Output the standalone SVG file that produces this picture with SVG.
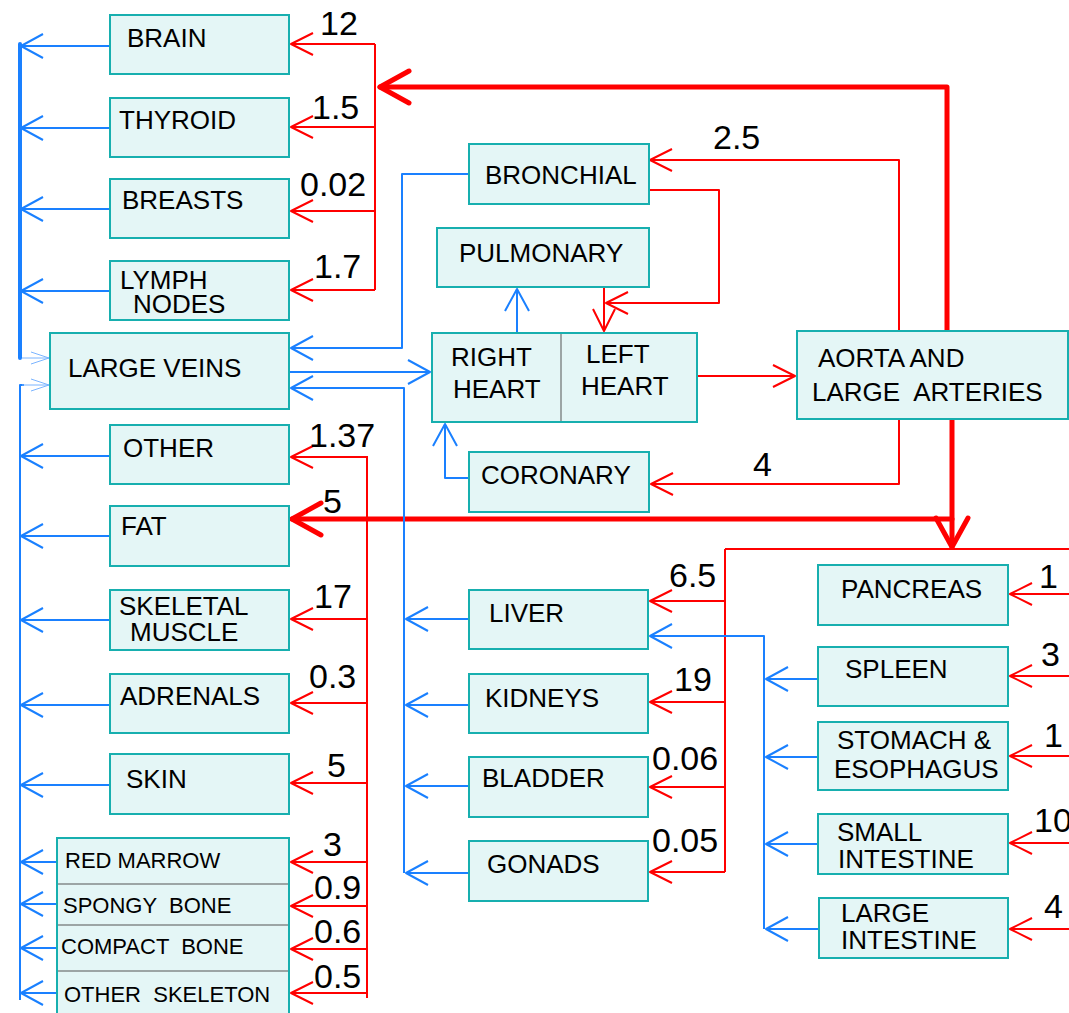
<svg xmlns="http://www.w3.org/2000/svg" width="1069" height="1013" viewBox="0 0 1069 1013">
<style>
.bx{fill:#e4f6f6;stroke:#17afaf;stroke-width:2}
.dv{stroke:#555;stroke-width:1}
.t{font-family:"Liberation Sans",Arial,Helvetica,sans-serif;font-size:26px;fill:#000;white-space:pre}
.s{font-family:"Liberation Sans",Arial,Helvetica,sans-serif;font-size:22px;fill:#000;white-space:pre}
.n{font-family:"Liberation Sans",Arial,Helvetica,sans-serif;font-size:34px;fill:#000}
.r{fill:none;stroke:#ff0000;stroke-width:2;stroke-linejoin:round}
.rt{fill:none;stroke:#ff0000;stroke-width:5;stroke-linejoin:round;stroke-linecap:round}
.b{fill:none;stroke:#1a80ff;stroke-width:2;stroke-linejoin:round}
.bt{fill:none;stroke:#1a80ff;stroke-width:4;stroke-linecap:round}
.bl{fill:none;stroke:#7ab4ff;stroke-width:1}
</style>
<defs>
<marker id="mr" markerUnits="userSpaceOnUse" viewBox="0 0 26 26" markerWidth="26" markerHeight="26" refX="24" refY="13" orient="auto"><path d="M2,2 L24,13 L2,24" fill="none" stroke="#ff0000" stroke-width="2" stroke-linejoin="round"/></marker>
<marker id="mb" markerUnits="userSpaceOnUse" viewBox="0 0 26 28" markerWidth="26" markerHeight="28" refX="24" refY="14" orient="auto"><path d="M2,2 L24,14 L2,26" fill="none" stroke="#1a80ff" stroke-width="2" stroke-linejoin="round"/></marker>
<marker id="mt" markerUnits="userSpaceOnUse" viewBox="0 0 40 40" markerWidth="40" markerHeight="40" refX="34" refY="20" orient="auto"><path d="M5,4 L34,20 L5,36" fill="none" stroke="#ff0000" stroke-width="5" stroke-linejoin="round" stroke-linecap="round"/></marker>
<marker id="ml" markerUnits="userSpaceOnUse" viewBox="0 0 20 14" markerWidth="20" markerHeight="14" refX="19" refY="7" orient="auto"><path d="M1,1 L19,7 L1,13" fill="none" stroke="#7ab4ff" stroke-width="1"/></marker>
</defs>
<rect width="1069" height="1013" fill="#ffffff"/>
<g id="connectors">
<path class="r" d="M375,44 V290"/>
<path class="r" d="M375,44 H291" marker-end="url(#mr)"/>
<path class="r" d="M375,127 H291" marker-end="url(#mr)"/>
<path class="r" d="M375,211 H291" marker-end="url(#mr)"/>
<path class="r" d="M375,290 H291" marker-end="url(#mr)"/>
<path class="rt" d="M947,331 V87 H380" marker-end="url(#mt)"/>
<path class="r" d="M899,331 V160 H650" marker-end="url(#mr)"/>
<path class="r" d="M649,190 H719 V303 H606" marker-end="url(#mr)"/>
<path class="r" d="M604,288 V331" marker-end="url(#mr)"/>
<path class="r" d="M697,376 H795" marker-end="url(#mr)"/>
<path class="r" d="M899,419 V484 H651" marker-end="url(#mr)"/>
<path class="rt" d="M952,419 V547" marker-end="url(#mt)"/>
<path class="rt" d="M952,519 H292" marker-end="url(#mt)"/>
<path class="r" d="M367,456 V998"/>
<path class="r" d="M367,457 H291" marker-end="url(#mr)"/>
<path class="r" d="M367,619 H291" marker-end="url(#mr)"/>
<path class="r" d="M367,703 H291" marker-end="url(#mr)"/>
<path class="r" d="M367,783 H291" marker-end="url(#mr)"/>
<path class="r" d="M367,862 H291" marker-end="url(#mr)"/>
<path class="r" d="M367,906 H291" marker-end="url(#mr)"/>
<path class="r" d="M367,949 H291" marker-end="url(#mr)"/>
<path class="r" d="M367,993 H291" marker-end="url(#mr)"/>
<path class="r" d="M725,549 H1069"/>
<path class="r" d="M725,549 V872"/>
<path class="r" d="M725,601 H650" marker-end="url(#mr)"/>
<path class="r" d="M725,702 H650" marker-end="url(#mr)"/>
<path class="r" d="M725,787 H650" marker-end="url(#mr)"/>
<path class="r" d="M725,872 H650" marker-end="url(#mr)"/>
<path class="r" d="M1069,594 H1010" marker-end="url(#mr)"/>
<path class="r" d="M1069,676 H1010" marker-end="url(#mr)"/>
<path class="r" d="M1069,756 H1010" marker-end="url(#mr)"/>
<path class="r" d="M1069,843 H1010" marker-end="url(#mr)"/>
<path class="r" d="M1069,929 H1010" marker-end="url(#mr)"/>
<path class="bt" d="M20,44 V358"/>
<path class="b" d="M24,385 H20 V1000"/>
<path class="b" d="M110,46 H21" marker-end="url(#mb)"/>
<path class="b" d="M110,128 H21" marker-end="url(#mb)"/>
<path class="b" d="M110,209 H21" marker-end="url(#mb)"/>
<path class="b" d="M110,291 H21" marker-end="url(#mb)"/>
<path class="b" d="M110,456 H21" marker-end="url(#mb)"/>
<path class="b" d="M110,536 H21" marker-end="url(#mb)"/>
<path class="b" d="M110,620 H21" marker-end="url(#mb)"/>
<path class="b" d="M110,705 H21" marker-end="url(#mb)"/>
<path class="b" d="M110,785 H21" marker-end="url(#mb)"/>
<path class="b" d="M57,862 H21" marker-end="url(#mb)"/>
<path class="b" d="M57,904 H21" marker-end="url(#mb)"/>
<path class="b" d="M57,948 H21" marker-end="url(#mb)"/>
<path class="b" d="M57,993 H21" marker-end="url(#mb)"/>
<path class="bl" d="M22,358 H49" marker-end="url(#ml)"/>
<path class="bl" d="M22,385 H49" marker-end="url(#ml)"/>
<path class="b" d="M469,174 H402 V348 H291" marker-end="url(#mb)"/>
<path class="b" d="M289,372 H430" marker-end="url(#mb)"/>
<path class="b" d="M404,873 V388 H291" marker-end="url(#mb)"/>
<path class="b" d="M469,619 H406" marker-end="url(#mb)"/>
<path class="b" d="M469,705 H406" marker-end="url(#mb)"/>
<path class="b" d="M469,786 H406" marker-end="url(#mb)"/>
<path class="b" d="M469,873 H406" marker-end="url(#mb)"/>
<path class="b" d="M517,333 V289" marker-end="url(#mb)"/>
<path class="b" d="M469,478 H445 V424" marker-end="url(#mb)"/>
<path class="b" d="M764,929 V636 H650" marker-end="url(#mb)"/>
<path class="b" d="M818,679 H766" marker-end="url(#mb)"/>
<path class="b" d="M818,757 H766" marker-end="url(#mb)"/>
<path class="b" d="M818,844 H766" marker-end="url(#mb)"/>
<path class="b" d="M819,929 H766" marker-end="url(#mb)"/>
</g>
<g id="labels">
<text class="n" x="320" y="35">12</text>
<text class="n" x="312" y="119">1.5</text>
<text class="n" x="300" y="196">0.02</text>
<text class="n" x="314" y="278">1.7</text>
<text class="n" x="713" y="149">2.5</text>
<text class="n" x="753" y="476">4</text>
<text class="n" x="309" y="447">1.37</text>
<text class="n" x="323" y="513">5</text>
<text class="n" x="314" y="608">17</text>
<text class="n" x="309" y="688">0.3</text>
<text class="n" x="327" y="777">5</text>
<text class="n" x="323" y="856">3</text>
<text class="n" x="314" y="899">0.9</text>
<text class="n" x="314" y="943">0.6</text>
<text class="n" x="314" y="988">0.5</text>
<text class="n" x="669" y="587">6.5</text>
<text class="n" x="674" y="691">19</text>
<text class="n" x="652" y="770">0.06</text>
<text class="n" x="652" y="852">0.05</text>
<text class="n" x="1039" y="588">1</text>
<text class="n" x="1041" y="666">3</text>
<text class="n" x="1044" y="747">1</text>
<text class="n" x="1034" y="832">10</text>
<text class="n" x="1044" y="918">4</text>
</g>
<g id="brain"><rect class="bx" x="110" y="15" width="179" height="59"/><text class="t" x="127" y="47">BRAIN</text></g>
<g id="thyroid"><rect class="bx" x="110" y="98" width="179" height="59"/><text class="t" x="119" y="129">THYROID</text></g>
<g id="breasts"><rect class="bx" x="110" y="179" width="179" height="59"/><text class="t" x="122" y="209">BREASTS</text></g>
<g id="lymph-nodes"><rect class="bx" x="110" y="261" width="179" height="59"/><text class="t" x="120" y="289">LYMPH<tspan x="133" dy="24">NODES</tspan></text></g>
<g id="large-veins"><rect class="bx" x="50" y="333" width="239" height="76"/><text class="t" x="68" y="377">LARGE VEINS</text></g>
<g id="other"><rect class="bx" x="110" y="425" width="179" height="59"/><text class="t" x="123" y="457">OTHER</text></g>
<g id="fat"><rect class="bx" x="110" y="506" width="179" height="60"/><text class="t" x="121" y="535">FAT</text></g>
<g id="skeletal-muscle"><rect class="bx" x="110" y="590" width="179" height="60"/><text class="t" x="119" y="615">SKELETAL<tspan x="130" dy="26">MUSCLE</tspan></text></g>
<g id="adrenals"><rect class="bx" x="110" y="674" width="179" height="59"/><text class="t" x="120" y="705">ADRENALS</text></g>
<g id="skin"><rect class="bx" x="110" y="754" width="179" height="60"/><text class="t" x="126" y="788">SKIN</text></g>
<g id="skeleton"><rect class="bx" x="57" y="838" width="232" height="185"/>
<line class="dv" x1="58" y1="884" x2="288" y2="884"/><line class="dv" x1="58" y1="925" x2="288" y2="925"/><line class="dv" x1="58" y1="971" x2="288" y2="971"/>
<text class="s" x="65" y="868">RED MARROW</text><text class="s" x="63" y="913">SPONGY  BONE</text><text class="s" x="61" y="954">COMPACT  BONE</text><text class="s" x="64" y="1002">OTHER  SKELETON</text></g>
<g id="bronchial"><rect class="bx" x="469" y="144" width="180" height="60"/><text class="t" x="485" y="184">BRONCHIAL</text></g>
<g id="pulmonary"><rect class="bx" x="437" y="228" width="212" height="59"/><text class="t" x="459" y="262">PULMONARY</text></g>
<g id="heart"><rect class="bx" x="432" y="333" width="265" height="89"/><line class="dv" x1="561" y1="334" x2="561" y2="421"/>
<text class="t" x="451" y="366">RIGHT<tspan x="453" dy="32">HEART</tspan></text><text class="t" x="586" y="363">LEFT<tspan x="581" dy="32">HEART</tspan></text></g>
<g id="aorta"><rect class="bx" x="797" y="331" width="271" height="88"/><text class="t" x="818" y="367">AORTA AND<tspan x="812" dy="34">LARGE  ARTERIES</tspan></text></g>
<g id="coronary"><rect class="bx" x="469" y="452" width="180" height="60"/><text class="t" x="481" y="484">CORONARY</text></g>
<g id="liver"><rect class="bx" x="469" y="590" width="179" height="59"/><text class="t" x="489" y="622">LIVER</text></g>
<g id="kidneys"><rect class="bx" x="469" y="674" width="179" height="59"/><text class="t" x="485" y="707">KIDNEYS</text></g>
<g id="bladder"><rect class="bx" x="469" y="757" width="179" height="60"/><text class="t" x="482" y="787">BLADDER</text></g>
<g id="gonads"><rect class="bx" x="469" y="841" width="179" height="60"/><text class="t" x="487" y="873">GONADS</text></g>
<g id="pancreas"><rect class="bx" x="818" y="565" width="190" height="60"/><text class="t" x="841" y="598">PANCREAS</text></g>
<g id="spleen"><rect class="bx" x="818" y="647" width="190" height="59"/><text class="t" x="845" y="678">SPLEEN</text></g>
<g id="stomach"><rect class="bx" x="818" y="722" width="190" height="68"/><text class="t" x="837" y="749">STOMACH &amp;<tspan x="834" dy="29">ESOPHAGUS</tspan></text></g>
<g id="small-intestine"><rect class="bx" x="818" y="814" width="190" height="60"/><text class="t" x="837" y="841">SMALL<tspan x="838" dy="27">INTESTINE</tspan></text></g>
<g id="large-intestine"><rect class="bx" x="819" y="898" width="189" height="60"/><text class="t" x="841" y="922">LARGE<tspan x="841" dy="27">INTESTINE</tspan></text></g>
</svg>
